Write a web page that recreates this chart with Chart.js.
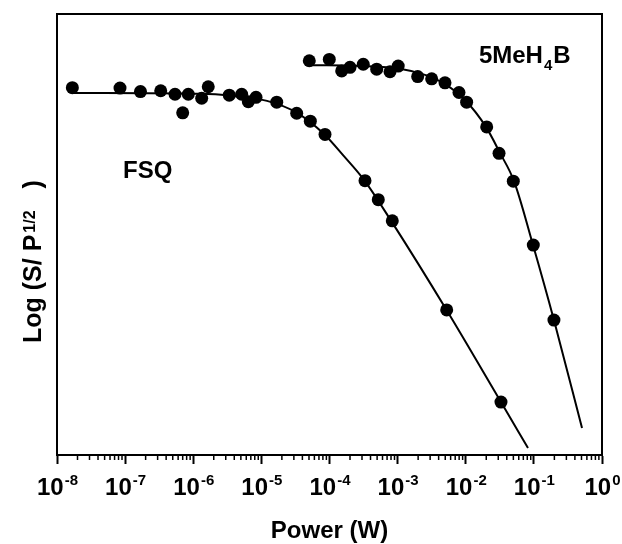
<!DOCTYPE html>
<html>
<head>
<meta charset="utf-8">
<title>Power saturation</title>
<script src="https://cdn.jsdelivr.net/npm/chart.js@4.4.1/dist/chart.umd.min.js"></script>
<style>
    html, body { margin: 0; padding: 0; background: #fff; }
    #wrap { width: 622px; height: 544px; position: relative; }
</style>
</head>
<body>
<div id="wrap"><canvas id="chart"></canvas></div>
<script>
// FSQ measured points (power in W, log signal in arbitrary units)
const fsqPower = [1.68e-8, 8.41e-8, 1.68e-7, 3.33e-7, 5.40e-7, 7.00e-7, 8.46e-7, 1.33e-6, 1.66e-6, 3.38e-6, 5.14e-6,
    6.43e-6, 8.34e-6, 1.68e-5, 3.30e-5, 5.23e-5, 8.59e-5, 3.32e-4, 5.20e-4, 8.35e-4, 5.25e-3, 3.29e-2];
const fsqSignal = [8.33, 8.32, 8.24, 8.26, 8.18, 7.76, 8.18, 8.09, 8.35, 8.16, 8.18,
    8.01, 8.11, 8.00, 7.75, 7.57, 7.27, 6.22, 5.79, 5.31, 3.29, 1.20];

// 5MeH4B measured points
const mePower = [5.05e-5, 9.93e-5, 1.51e-4, 2.00e-4, 3.13e-4, 4.93e-4, 7.73e-4, 1.02e-3, 1.97e-3, 3.16e-3, 4.96e-3,
    7.96e-3, 1.03e-2, 2.03e-2, 3.08e-2, 4.99e-2, 9.81e-2, 0.197];
const meSignal = [8.94, 8.97, 8.71, 8.79, 8.86, 8.75, 8.69, 8.82, 8.58, 8.53, 8.44,
    8.22, 8.00, 7.44, 6.84, 6.21, 4.76, 3.06];

// fitted curves
const fsqFitPower = [1.66e-8, 1.26e-6, 3.46e-6, 1.21e-5, 3.33e-5, 8.30e-5, 1.58e-4, 3.21e-4, 8.26e-4, 5.31e-3, 3.29e-2, 8.20e-2];
const fsqFitSignal = [8.21, 8.19, 8.15, 8.03, 7.76, 7.28, 6.80, 6.24, 5.28, 3.27, 1.20, 0.16];
const meFitPower = [5.00e-5, 2.81e-4, 1.08e-3, 2.52e-3, 4.96e-3, 9.75e-3, 1.98e-2, 3.18e-2, 5.11e-2, 9.71e-2, 0.197, 0.509];
const meFitSignal = [8.84, 8.82, 8.76, 8.62, 8.41, 8.05, 7.44, 6.85, 6.21, 4.76, 3.06, 0.61];

// x axis decades (10^n)
const powerExponents = [-8, -7, -6, -5, -4, -3, -2, -1, 0];

// series labels placed in the plot
const seriesLabels = [
    { text: 'FSQ', sub: '', after: '', x: 9.3e-8, y: 6.28 },
    { text: '5MeH', sub: '4', after: 'B', x: 1.56e-2, y: 8.89 }
];

const FONT = '"Liberation Sans", Arial, Helvetica, sans-serif';

const toPoints = (xs, ys) => xs.map((x, i) => ({ x, y: ys[i] }));

// frame, minor ticks, tick labels with superscripts, y title, series labels
const decorPlugin = {
    id: 'decor',
    afterDraw(chart) {
        const { ctx, chartArea: a, scales: { x, y } } = chart;
        ctx.save();
        ctx.strokeStyle = '#000';
        ctx.fillStyle = '#000';

        ctx.lineWidth = 2;
        ctx.strokeRect(a.left, a.top, a.right - a.left, a.bottom - a.top);

        // minor ticks 2..9 in each decade
        ctx.lineWidth = 1.5;
        ctx.beginPath();
        for (let i = 0; i < powerExponents.length - 1; i++) {
            for (let m = 2; m <= 9; m++) {
                const px = x.getPixelForValue(m * Math.pow(10, powerExponents[i]));
                ctx.moveTo(px, a.bottom);
                ctx.lineTo(px, a.bottom + 5);
            }
        }
        ctx.stroke();

        // 10^n labels
        ctx.textAlign = 'left';
        ctx.textBaseline = 'alphabetic';
        powerExponents.forEach(e => {
            const px = x.getPixelForValue(Math.pow(10, e));
            ctx.font = 'bold 24px ' + FONT;
            const wBase = ctx.measureText('10').width;
            ctx.font = 'bold 15px ' + FONT;
            const wExp = ctx.measureText(String(e)).width;
            const left = px - (wBase + wExp) / 2;
            ctx.font = 'bold 24px ' + FONT;
            ctx.fillText('10', left, a.bottom + 40);
            ctx.font = 'bold 15px ' + FONT;
            ctx.fillText(String(e), left + wBase + 1, a.bottom + 30);
        });

        // y title: Log (S/ P^1/2 )
        ctx.save();
        ctx.translate(a.left - 16, a.bottom - 112);
        ctx.rotate(-Math.PI / 2);
        ctx.font = 'bold 25px ' + FONT;
        ctx.fillText('Log (S/ P', 0, 0);
        let w = ctx.measureText('Log (S/ P').width + 2;
        ctx.font = 'bold 16px ' + FONT;
        ctx.fillText('1/2', w, -6);
        w += ctx.measureText('1/2').width + 22;
        ctx.font = 'bold 25px ' + FONT;
        ctx.fillText(')', w, 0);
        ctx.restore();

        // series labels
        seriesLabels.forEach(l => {
            let px = x.getPixelForValue(l.x);
            const py = y.getPixelForValue(l.y);
            ctx.font = 'bold 24px ' + FONT;
            ctx.fillText(l.text, px, py);
            px += ctx.measureText(l.text).width;
            if (l.sub) {
                ctx.font = 'bold 15px ' + FONT;
                ctx.fillText(l.sub, px + 1, py + 7);
                px += ctx.measureText(l.sub).width + 2;
                ctx.font = 'bold 24px ' + FONT;
                ctx.fillText(l.after, px, py);
            }
        });

        ctx.restore();
    }
};

const dotStyle = { showLine: false, pointRadius: 6.5, pointHoverRadius: 6.5, backgroundColor: '#000', borderWidth: 0, order: 1 };
const fitStyle = { showLine: true, pointRadius: 0, borderColor: '#000', borderWidth: 2, cubicInterpolationMode: 'monotone', order: 2 };

new Chart(document.getElementById('chart'), {
    type: 'scatter',
    data: {
        datasets: [
            { label: 'FSQ', data: toPoints(fsqPower, fsqSignal), ...dotStyle },
            { label: '5MeH4B', data: toPoints(mePower, meSignal), ...dotStyle },
            { label: 'FSQ fit', data: toPoints(fsqFitPower, fsqFitSignal), ...fitStyle },
            { label: '5MeH4B fit', data: toPoints(meFitPower, meFitSignal), ...fitStyle }
        ]
    },
    options: {
        responsive: true,
        maintainAspectRatio: false,
        animation: false,
        layout: { padding: { left: 57, right: 20, top: 14, bottom: 0 } },
        plugins: { legend: { display: false }, tooltip: { enabled: false } },
        scales: {
            x: {
                type: 'logarithmic',
                min: 1e-8,
                max: 1,
                afterBuildTicks: scale => {
                    scale.ticks = powerExponents.map(e => ({ value: Math.pow(10, e), major: true }));
                },
                afterFit: scale => { scale.paddingLeft = 0; scale.paddingRight = 0; },
                ticks: { display: false },
                grid: { drawOnChartArea: false, drawTicks: true, tickLength: 9, tickWidth: 2, tickColor: '#000' },
                border: { display: true, width: 2, color: '#000' },
                title: {
                    display: true,
                    text: 'Power (W)',
                    color: '#000',
                    font: { family: FONT, size: 24, weight: 'bold', lineHeight: 1 },
                    padding: { top: 55, bottom: 1 }
                }
            },
            y: {
                display: false,
                min: 0,
                max: 10
            }
        }
    },
    plugins: [decorPlugin]
});
</script>
</body>
</html>
